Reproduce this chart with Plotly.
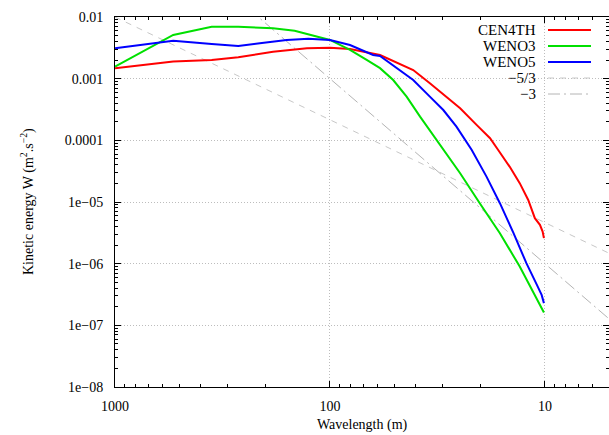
import plotly.graph_objects as go

# ---------------- data ----------------
cen4th_wl = [1000, 536, 355, 267, 184, 128, 100, 80.7, 58.5, 41.0, 34.3, 27.7, 24.8, 20.8,
             18.0, 16.5, 14.6, 13.1, 11.96, 11.14, 10.55, 10.25, 10.11]
cen4th_w = [1.48e-3, 1.89e-3, 2.01e-3, 2.22e-3, 2.74e-3, 3.11e-3, 3.18e-3, 3.03e-3, 2.42e-3,
            1.38e-3, 8.4e-4, 4.52e-4, 3.31e-4, 1.78e-4, 1.08e-4, 6.98e-5, 3.75e-5, 2.02e-5,
            1.08e-5, 5.46e-6, 4.26e-6, 3.31e-6, 2.59e-6]

weno3_wl = [1000, 536, 355, 267, 184, 146, 100, 80.7, 67.5, 58.5, 50.8, 44.0, 38.1, 31.9,
            29.7, 24.8, 20.1, 16.2, 13.1, 11.3, 10.55, 10.11]
weno3_w = [1.57e-3, 5.11e-3, 6.97e-3, 6.97e-3, 6.56e-3, 6.0e-3, 4.24e-3, 2.92e-3, 2.01e-3,
           1.48e-3, 9.5e-4, 5.11e-4, 2.42e-4, 1.01e-4, 6.98e-5, 2.93e-5, 9.57e-6, 3.12e-6,
           8.97e-7, 3.32e-7, 2.02e-7, 1.61e-7]

weno5_wl = [1000, 536, 355, 267, 212, 159, 126, 100, 80.7, 63.0, 58.5, 47.2, 41.0, 34.3,
            29.7, 25.8, 21.9, 18.7, 16.2, 14.0, 12.2, 10.9, 10.36, 10.11]
weno5_w = [3.11e-3, 4.13e-3, 3.65e-3, 3.39e-3, 3.75e-3, 4.24e-3, 4.45e-3, 4.24e-3, 3.52e-3,
           2.42e-3, 2.33e-3, 1.38e-3, 9.52e-4, 5.11e-4, 3.10e-4, 1.67e-4, 6.98e-5, 2.58e-5,
           9.57e-6, 3.12e-6, 1.02e-6, 4.53e-7, 3.12e-7, 2.29e-7]

ref53_wl = [1000, 5]
ref53_w = [1.0e-2, 1.46e-6]
ref3_wl = [1000, 5]
ref3_w = [1.0, 1.25e-7]

series_names = ["CEN4TH", "WENO3", "WENO5", "\u22125/3", "\u22123"]

x_tickvals = [1000, 100, 10]
x_ticktext = ["1000", "100", "10"]
y_tickvals = [1e-8, 1e-7, 1e-6, 1e-5, 1e-4, 1e-3, 1e-2]
y_ticktext = ["1e\u221208", "1e\u221207", "1e\u221206", "1e\u221205", "0.0001", "0.001", "0.01"]

x_minor = [m * 10 ** e for e in (0, 1, 2) for m in range(2, 10)]
y_minor = [m * 10.0 ** e for e in range(-8, -2) for m in range(2, 10)]

# ---------------- styles ----------------
FONT = "Liberation Serif"
colors = ["#ff0000", "#00e000", "#0000ff", "#c8c8c8", "#b4b4b4"]
dashes = ["solid", "solid", "solid", "6px,6px", "12px,4px,2px,4px"]
widths = [2, 2, 2, 1, 1]

fig = go.Figure()
data = [(cen4th_wl, cen4th_w), (weno3_wl, weno3_w), (weno5_wl, weno5_w),
        (ref53_wl, ref53_w), (ref3_wl, ref3_w)]
order = [3, 4, 0, 1, 2]
for i in order:
    xs, ys = data[i]
    fig.add_trace(go.Scatter(x=xs, y=ys, mode="lines", name=series_names[i],
                             line=dict(color=colors[i], width=widths[i], dash=dashes[i]),
                             showlegend=False, hoverinfo="skip"))

# plot area geometry (px)
W, H = 609, 435
L, R, T, B = 115, 0, 17, 48
pw, ph = W - L - R, H - T - B

def px2paper_x(px):
    return (px - L) / pw

def px2paper_y(py):
    return (H - B - py) / ph

shapes = []
annotations = []
# key background
shapes.append(dict(type="rect", xref="paper", yref="paper", layer="between",
                   x0=px2paper_x(482), x1=px2paper_x(604), y0=px2paper_y(101), y1=px2paper_y(20),
                   fillcolor="white", line=dict(width=0)))
key_rows = [30, 46, 62, 78, 94]
for k, i in enumerate(range(5)):
    yy = px2paper_y(key_rows[k])
    shapes.append(dict(type="line", xref="paper", yref="paper",
                       x0=px2paper_x(548), x1=px2paper_x(591), y0=yy, y1=yy,
                       line=dict(color=colors[i], width=widths[i], dash=dashes[i])))
    annotations.append(dict(xref="paper", yref="paper", x=px2paper_x(538), y=yy,
                            xanchor="right", yanchor="middle", showarrow=False,
                            text=series_names[i], font=dict(family=FONT, size=15, color="black")))

annotations.append(dict(xref="paper", yref="paper", x=0.5, y=px2paper_y(425),
                        xanchor="center", yanchor="middle", showarrow=False,
                        text="Wavelength (m)", font=dict(family=FONT, size=14, color="black")))
annotations.append(dict(xref="paper", yref="paper", x=px2paper_x(27), y=0.5,
                        xanchor="center", yanchor="middle", showarrow=False, textangle=-90,
                        text="Kinetic energy W (m<sup>2</sup>.s<sup>\u22122</sup>)",
                        font=dict(family=FONT, size=14, color="black")))

axis_common = dict(showline=True, linecolor="black", linewidth=1, mirror="allticks",
                   ticks="inside", ticklen=6, tickcolor="black", tickwidth=1,
                   showgrid=True, gridcolor="#bdbdbd", gridwidth=1, griddash="1px,2px",
                   zeroline=False, automargin=False,
                   tickfont=dict(family=FONT, size=14, color="black"))

fig.update_layout(
    width=W, height=H, template="none",
    paper_bgcolor="white", plot_bgcolor="white",
    margin=dict(l=L, r=R, t=T, b=B, pad=0),
    xaxis=dict(type="log", range=[3, 0.702], tickmode="array", tickvals=x_tickvals,
               ticktext=x_ticktext, ticklabelstandoff=6,
               minor=dict(tickmode="array", tickvals=x_minor, ticks="inside", ticklen=3,
                          tickcolor="black", showgrid=False),
               **axis_common),
    yaxis=dict(type="log", range=[-8, -2], tickmode="array", tickvals=y_tickvals,
               ticktext=y_ticktext, ticklabelstandoff=8,
               minor=dict(tickmode="array", tickvals=y_minor, ticks="inside", ticklen=3,
                          tickcolor="black", showgrid=False),
               **axis_common),
    shapes=shapes, annotations=annotations, showlegend=False, hovermode=False,
)

fig.write_html("out.html", config={"displayModeBar": False, "staticPlot": True},
               post_script="document.body.style.margin='0px';document.body.style.overflow='hidden';")
